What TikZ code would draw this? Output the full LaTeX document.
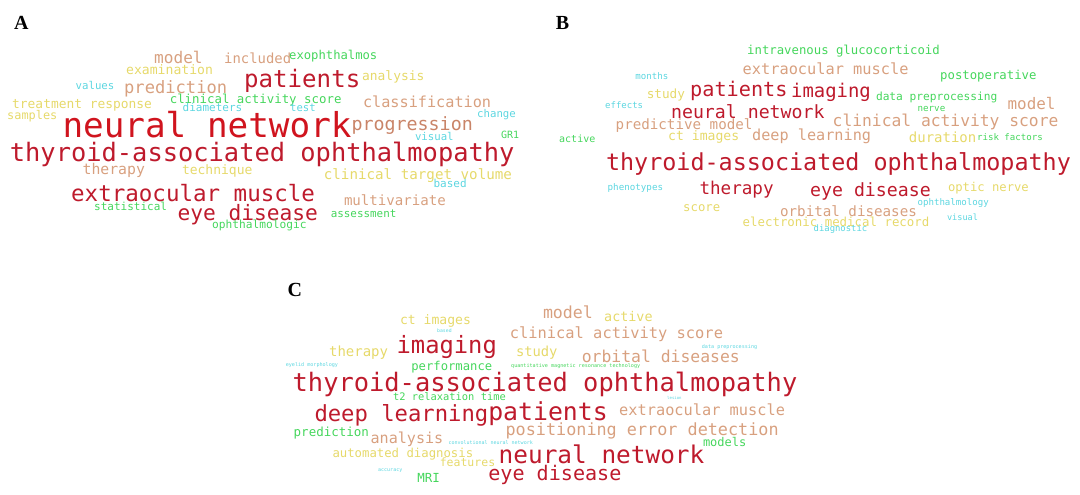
\documentclass[tikz,border=0pt]{standalone}
\usepackage{fontspec}
\newfontfamily\cloudfont{DejaVu Sans Mono}
\newfontfamily\panelfont{Liberation Serif}
\usetikzlibrary{positioning}

\definecolor{cloudred}{HTML}{BE1A2C}
\definecolor{cloudbright}{HTML}{D0141E}
\definecolor{cloudsalmon}{HTML}{D8A07F}
\definecolor{clouddark}{HTML}{C98468}
\definecolor{cloudyellow}{HTML}{E6D96A}
\definecolor{cloudgreen}{HTML}{45D65C}
\definecolor{cloudcyan}{HTML}{5CD6E0}

\tikzset{
	word/.style={anchor=base west, inner sep=0pt, font=\cloudfont\fontsize{#1}{#1}\selectfont},
	wred/.style={text=cloudred},
	wbright/.style={text=cloudbright},
	wsalmon/.style={text=cloudsalmon},
	wdark/.style={text=clouddark},
	wyellow/.style={text=cloudyellow},
	wgreen/.style={text=cloudgreen},
	wcyan/.style={text=cloudcyan},
	panel/.style={anchor=base west, inner sep=0pt, font=\panelfont\bfseries\fontsize{20}{20}\selectfont}
}

\begin{document}
\begin{tikzpicture}[x=1pt, y=-1pt]
	\useasboundingbox (0,0) rectangle (1080,495);
	% panel A
	\node[panel] (pA) at (14,30) {A};
	\node[word=16.1, wsalmon] (a_model) at (154,64) {model};
	\node[word=13.9, wsalmon] (a_incl) at (224,64) {included};
	\node[word=12.2, wgreen] (a_exo) at (289,60) {exophthalmos};
	\node[word=13.1, wyellow] (a_exam) at (126,75) {examination};
	\node[word=24.1, wred] (a_pat) at (244,87.3) {patients};
	\node[word=12.9, wyellow] (a_ana) at (362,80.7) {analysis};
	\node[word=10.7, wcyan] (a_val) at (75.5,89.3) {values};
	\node[word=17.1, wsalmon] (a_pred) at (124,93.3) {prediction};
	\node[word=12.4, wgreen] (a_cas) at (169.6,103.3) {clinical activity score};
	\node[word=15.2, wsalmon] (a_class) at (362.8,107.3) {classification};
	\node[word=12.9, wyellow] (a_treat) at (12,109) {treatment response};
	\node[word=11, wcyan] (a_diam) at (182.5,111.7) {diameters};
	\node[word=10.6, wcyan] (a_test) at (290,111.7) {test};
	\node[word=11.9, wyellow] (a_samp) at (7,120) {samples};
	\node[word=10.7, wcyan] (a_chg) at (477,117.3) {change};
	\node[word=34.3, wbright] (a_nn) at (62.3,137.3) {neural network};
	\node[word=18.3, wdark] (a_prog) at (351.4,130) {progression};
	\node[word=10.7, wcyan] (a_vis) at (414.8,140) {visual};
	\node[word=10, wgreen] (a_gr) at (501,138.3) {GR1};
	\node[word=25.4, wred] (a_tao) at (9.7,161.7) {thyroid-associated ophthalmopathy};
	\node[word=14.8, wsalmon] (a_ther) at (82.4,174) {therapy};
	\node[word=13, wyellow] (a_tech) at (181.8,174) {technique};
	\node[word=14.2, wyellow] (a_ctv) at (323.7,179) {clinical target volume};
	\node[word=11, wcyan] (a_based) at (433.4,187.3) {based};
	\node[word=22.5, wred] (a_eom) at (71,201.7) {extraocular muscle};
	\node[word=14.1, wsalmon] (a_multi) at (343.8,205.7) {multivariate};
	\node[word=11, wgreen] (a_stat) at (94,210.7) {statistical};
	\node[word=21.2, wred] (a_eye) at (177.3,220) {eye disease};
	\node[word=10.9, wgreen] (a_ass) at (330.6,217.7) {assessment};
	\node[word=11.2, wgreen] (a_oph) at (212,228.3) {ophthalmologic};
	% panel B
	\node[panel] (pB) at (555.6,29.3) {B};
	\node[word=12.3, wgreen] (b_ivgc) at (747,55) {intravenous glucocorticoid};
	\node[word=15.3, wsalmon] (b_eom) at (742.5,75) {extraocular muscle};
	\node[word=9.1, wcyan] (b_mon) at (635.2,80) {months};
	\node[word=12.3, wgreen] (b_post) at (940,80) {postoperative};
	\node[word=12.7, wyellow] (b_study) at (646.6,98.3) {study};
	\node[word=20.2, wred] (b_pat) at (690,96.7) {patients};
	\node[word=18.9, wred] (b_img) at (791,97.7) {imaging};
	\node[word=11.2, wgreen] (b_dp) at (875.8,100.7) {data preprocessing};
	\node[word=9, wcyan] (b_eff) at (605,108.3) {effects};
	\node[word=15.9, wsalmon] (b_model) at (1007.4,109.3) {model};
	\node[word=9.2, wgreen] (b_nerve) at (917.4,111.7) {nerve};
	\node[word=18.2, wred] (b_nn) at (670.9,118.3) {neural network};
	\node[word=16.3, wsalmon] (b_cas) at (832.5,126.7) {clinical activity score};
	\node[word=14.2, wsalmon] (b_pm) at (615.5,129) {predictive model};
	\node[word=10, wgreen] (b_act) at (559,142.3) {active};
	\node[word=13.1, wyellow] (b_ct) at (668,140.7) {ct images};
	\node[word=15.2, wsalmon] (b_dl) at (751.9,140.7) {deep learning};
	\node[word=14, wyellow] (b_dur) at (908.7,142.7) {duration};
	\node[word=9.1, wgreen] (b_risk) at (976.9,140) {risk factors};
	\node[word=23.4, wred] (b_tao) at (605.8,170.7) {thyroid-associated ophthalmopathy};
	\node[word=9.2, wcyan] (b_phen) at (607.5,190) {phenotypes};
	\node[word=17.6, wred] (b_ther) at (699.3,194) {therapy};
	\node[word=18.2, wred] (b_eye) at (810,196) {eye disease};
	\node[word=12.2, wyellow] (b_optic) at (947.8,191.7) {optic nerve};
	\node[word=9.1, wcyan] (b_ophy) at (917.4,205) {ophthalmology};
	\node[word=12.3, wyellow] (b_score) at (683,211.7) {score};
	\node[word=14.2, wsalmon] (b_orb) at (779.9,216) {orbital diseases};
	\node[word=8.6, wcyan] (b_vis) at (946.8,220) {visual};
	\node[word=12.4, wyellow] (b_emr) at (742.5,226) {electronic medical record};
	\node[word=8.9, wcyan] (b_diag) at (813.5,231.7) {diagnostic};
	% panel C
	\node[panel] (pC) at (287.3,296.7) {C};
	\node[word=16.6, wsalmon] (c_model) at (542.8,318.3) {model};
	\node[word=13.4, wyellow] (c_act) at (604,321.7) {active};
	\node[word=13.1, wyellow] (c_ct) at (399.8,324.3) {ct images};
	\node[word=4.8, wcyan] (c_based) at (437,332.5) {based};
	\node[word=15.4, wsalmon] (c_cas) at (509.6,338.3) {clinical activity score};
	\node[word=23.8, wred] (c_img) at (396.4,353.3) {imaging};
	\node[word=14, wyellow] (c_ther) at (328.9,356.7) {therapy};
	\node[word=13.8, wyellow] (c_study) at (515.8,356) {study};
	\node[word=5.1, wcyan] (c_dp) at (701.7,348.3) {data preprocessing};
	\node[word=16.4, wsalmon] (c_orb) at (581.6,362.7) {orbital diseases};
	\node[word=5.1, wcyan] (c_eyelid) at (285.6,366.7) {eyelid morphology};
	\node[word=12.2, wgreen] (c_perf) at (411.2,370.7) {performance};
	\node[word=5.1, wgreen] (c_qmr) at (511,367.3) {quantitative magnetic resonance technology};
	\node[word=25.4, wred] (c_tao) at (292.5,391.7) {thyroid-associated ophthalmopathy};
	\node[word=10.4, wgreen] (c_t2) at (392.9,400) {t2 relaxation time};
	\node[word=4, wcyan] (c_les) at (667,399.3) {lesion};
	\node[word=22.2, wred] (c_dl) at (314.3,421.7) {deep learning};
	\node[word=24.8, wred] (c_pat) at (488.1,420) {patients};
	\node[word=15.3, wsalmon] (c_eom) at (619,415) {extraocular muscle};
	\node[word=12.5, wgreen] (c_pred) at (293.5,436.7) {prediction};
	\node[word=16.8, wsalmon] (c_ped) at (505.4,435) {positioning error detection};
	\node[word=15.1, wsalmon] (c_ana) at (370.4,443.3) {analysis};
	\node[word=5, wcyan] (c_cnn) at (448.3,444) {convolutional neural network};
	\node[word=12, wgreen] (c_models) at (702.8,446.7) {models};
	\node[word=24.4, wred] (c_nn) at (498.5,463.3) {neural network};
	\node[word=12.3, wyellow] (c_ad) at (332.3,457.3) {automated diagnosis};
	\node[word=11.5, wyellow] (c_feat) at (439.6,466.7) {features};
	\node[word=5, wcyan] (c_acc) at (378,471.5) {accuracy};
	\node[word=12.5, wgreen] (c_mri) at (417.1,482.7) {MRI};
	\node[word=20.1, wred] (c_eye) at (488.1,480) {eye disease};
\end{tikzpicture}
\end{document}
